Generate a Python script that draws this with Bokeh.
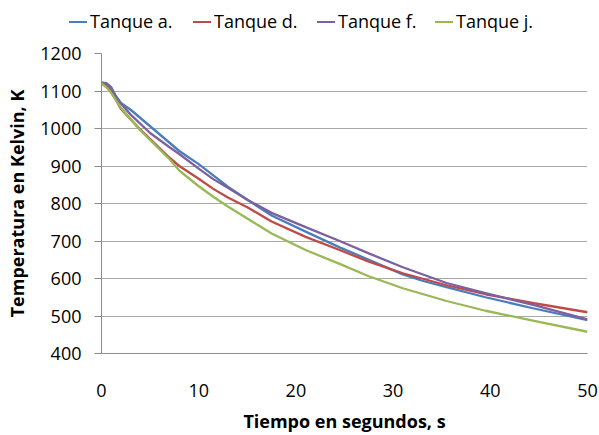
from bokeh.plotting import figure
from bokeh.layouts import column
from bokeh.models import Range1d, FixedTicker, Div
from bokeh.embed import file_html
from bokeh.resources import INLINE

# Tanque a.
time_a = [0, 0.5, 1, 1.5, 2, 3, 5, 7, 8, 10, 11.5, 13, 15, 17.5, 21, 24.5, 27.5, 29, 31, 33, 35.5, 39.5, 44.5, 50]
temp_a = [1122, 1121, 1110, 1086, 1068, 1050, 1006, 962, 940, 905, 875, 845, 810, 768, 725, 683, 650, 633, 611, 594, 577, 550, 520, 489]
# Tanque d.
time_d = [0, 0.5, 1, 2, 4, 7, 8, 10, 11.5, 13, 15, 17.5, 21, 24.5, 27.5, 31, 35.5, 39.5, 44.5, 50]
temp_d = [1122, 1115, 1098, 1052, 997, 922, 900, 866, 839, 816, 790, 752, 711, 676, 645, 614, 582, 558, 534, 510]
# Tanque f.
time_f = [0, 0.5, 1, 1.5, 3, 5, 7, 8, 10, 11.5, 13, 15, 17.5, 21, 24.5, 27.5, 31, 35.5, 39.5, 44.5, 50]
temp_f = [1122, 1120, 1108, 1081, 1037, 988, 950, 932, 893, 865, 842, 810, 775, 737, 700, 667, 630, 588, 561, 529, 491]
# Tanque j.
time_j = [0, 0.5, 1, 2, 4, 7, 8, 10, 11.5, 13, 15, 17.5, 21, 24.5, 27.5, 31, 35.5, 39.5, 44.5, 50]
temp_j = [1120, 1110, 1095, 1055, 995, 918, 888, 846, 818, 792, 760, 720, 676, 639, 606, 574, 540, 514, 487, 458]

series_names = ["Tanque a.", "Tanque d.", "Tanque f.", "Tanque j."]
series_colors = ["#4A7EBB", "#BE4B48", "#7D60A0", "#98B954"]
x_ticks = [0, 10, 20, 30, 40, 50]
y_ticks = [400, 500, 600, 700, 800, 900, 1000, 1100, 1200]

FONT = "Open Sans"
TOTAL_W = 598
LEG_H = 36
MAIN_H = 399

times = [time_a, time_d, time_f, time_j]
temps = [temp_a, temp_d, temp_f, temp_j]

# ---- main chart ----
p = figure(width=TOTAL_W, height=MAIN_H, output_backend="svg", toolbar_location=None,
           x_range=Range1d(0, 50), y_range=Range1d(400, 1200),
           min_border_left=101, min_border_right=11, min_border_top=17, min_border_bottom=82)
p.outline_line_color = None
p.background_fill_color = "white"
p.border_fill_color = "white"

p.xgrid.grid_line_color = None
p.ygrid.grid_line_color = "#A8A8A8"
p.ygrid.grid_line_width = 1

p.xaxis.ticker = FixedTicker(ticks=x_ticks)
p.yaxis.ticker = FixedTicker(ticks=y_ticks)
p.xaxis.minor_tick_line_color = None
p.yaxis.minor_tick_line_color = None

for ax in (p.xaxis[0], p.yaxis[0]):
    ax.axis_line_color = "#8C8C8C"
    ax.major_tick_line_color = "#8C8C8C"
    ax.major_tick_in = 0
    ax.major_label_text_font = FONT
    ax.major_label_text_font_size = "18px"
    ax.major_label_text_color = "#000000"
    ax.axis_label_text_font = FONT
    ax.axis_label_text_font_size = "18px"
    ax.axis_label_text_font_style = "bold"
    ax.axis_label_text_color = "#000000"

p.yaxis.major_tick_out = 7
p.yaxis.major_label_standoff = 13
p.yaxis.axis_label = "Temperatura en Kelvin, K"
p.yaxis.axis_label_standoff = 8

p.xaxis.major_tick_out = 0
p.xaxis.major_label_standoff = 30
p.xaxis.axis_label = "Tiempo en segundos, s"
p.xaxis.axis_label_standoff = 9

for name, color, t, v in zip(series_names, series_colors, times, temps):
    p.line(t, v, line_color=color, line_width=2.3)

# ---- legend strip on top (HTML text) ----
legend_line_x = [69, 193, 317, 435]
parts = []
for name, color, lx in zip(series_names, series_colors, legend_line_x):
    parts.append(
        f'<span style="position:absolute;left:{lx}px;top:20.6px;width:18px;height:2.4px;'
        f'background:{color};"></span>'
        f'<span style="position:absolute;left:{lx + 21}px;top:8px;line-height:26px;'
        f"font-family:'Open Sans';font-size:18px;color:#000;white-space:nowrap;\">{name}</span>"
    )
html = (f'<div style="position:relative;width:{TOTAL_W}px;height:{LEG_H}px;">'
        + "".join(parts) + "</div>")
leg = Div(text=html, width=TOTAL_W, height=LEG_H, margin=0)

layout = column(leg, p, spacing=0, margin=0)
open("out.html", "w").write(file_html(layout, INLINE))
